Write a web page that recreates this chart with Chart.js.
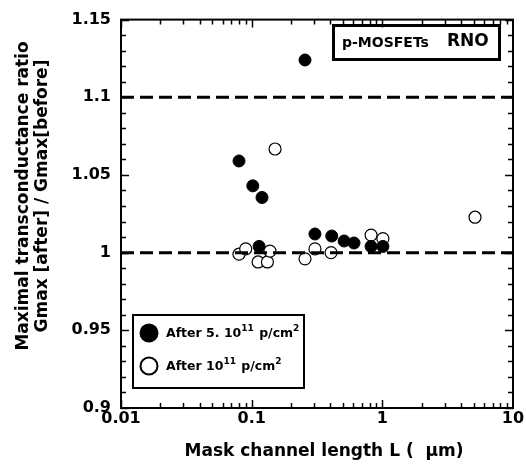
<!DOCTYPE html>
<html><head><meta charset="utf-8">
<script src="https://cdn.jsdelivr.net/npm/chart.js@4/dist/chart.umd.min.js"></script>
<style>html,body{margin:0;padding:0;background:#fff;}canvas{display:block;}</style>
</head><body>
<canvas id="c" width="526" height="468"></canvas>
<script>
// ---- data ----
const filledL = [0.08, 0.102, 0.12, 0.114, 0.256, 0.305, 0.41, 0.51, 0.607, 0.82, 1.01];
const filledR = [1.059, 1.043, 1.0355, 1.004, 1.124, 1.012, 1.0107, 1.0075, 1.0062, 1.004, 1.004];
const openL = [0.08, 0.09, 0.112, 0.132, 0.138, 0.151, 0.256, 0.305, 0.405, 0.82, 1.01, 5.12];
const openR = [0.999, 1.0024, 0.994, 0.994, 1.001, 1.0667, 0.996, 1.0024, 1.0, 1.0113, 1.009, 1.0228];
const refLevels = [1.0, 1.1];
const xTickVals = [0.01, 0.1, 1, 10];
const xTickLabels = ['0.01', '0.1', '1', '10'];
const yTickVals = [0.9, 0.95, 1.0, 1.05, 1.1, 1.15];
const yTickLabels = ['0.9', '0.95', '1', '1.05', '1.1', '1.15'];
const xRange = [0.01, 10];
const yRange = [0.9, 1.15];
const xTitle = 'Mask channel length L (  \u03BCm)';
const yTitle = ['Maximal transconductance ratio', 'Gmax [after] / Gmax[before]'];
const legendItems = [
  {filled: true, parts: [['After 5. 10', 0], ['11', 1], [' p/cm', 0], ['2', 1]]},
  {filled: false, parts: [['After 10', 0], ['11', 1], [' p/cm', 0], ['2', 1]]}
];
const boxText = [['p-MOSFETs', 14], ['RNO', 17]];

const FF = '"DejaVu Sans", "Liberation Sans", Arial, sans-serif';

const toPts = (xs, ys) => xs.map((v, i) => ({x: v, y: ys[i]}));

const datasets = [
  {label: 'open', data: toPts(openL, openR), backgroundColor: '#fff', borderColor: '#000',
   borderWidth: 1.2, pointRadius: 6, order: 3},
  {label: 'filled', data: toPts(filledL, filledR), backgroundColor: '#000', borderColor: '#000',
   borderWidth: 1, pointRadius: 6, order: 2}
];
refLevels.forEach(l => datasets.push({
  label: 'ref' + l, data: [{x: xRange[0], y: l}, {x: xRange[1], y: l}],
  showLine: true, borderColor: '#000', borderWidth: 3, borderDash: [13, 6],
  pointRadius: 0, order: 1
}));

function drawParts(ctx, parts, x, y, size) {
  ctx.textBaseline = 'middle';
  ctx.textAlign = 'left';
  for (const [t, sup] of parts) {
    ctx.font = 'bold ' + (sup ? Math.round(size * 0.7) : size) + 'px ' + FF;
    ctx.fillText(t, x, sup ? y - 5 : y);
    x += ctx.measureText(t).width + (sup ? 1 : 0);
  }
}

const deco = {
  id: 'deco',
  afterDraw(chart) {
    const {ctx, chartArea: a, scales: {x, y}} = chart;
    ctx.save();
    ctx.strokeStyle = '#000'; ctx.fillStyle = '#000';
    // minor / major ticks (inward)
    ctx.lineWidth = 1.5;
    ctx.beginPath();
    for (let i = 90; i <= 115; i++) {
      const py = Math.round(y.getPixelForValue(i / 100)) + 0.5;
      const len = (i % 5 === 0) ? 8 : 5;
      ctx.moveTo(a.left, py); ctx.lineTo(a.left + len, py);
      ctx.moveTo(a.right, py); ctx.lineTo(a.right - len, py);
    }
    for (let n = -2; n <= 0; n++) {
      for (let k = 1; k <= 9; k++) {
        const px = Math.round(x.getPixelForValue(k * Math.pow(10, n))) + 0.5;
        const len = (k === 1) ? 8 : 5;
        ctx.moveTo(px, a.bottom); ctx.lineTo(px, a.bottom - len);
        ctx.moveTo(px, a.top); ctx.lineTo(px, a.top + len);
      }
    }
    ctx.stroke();
    // frame
    ctx.lineWidth = 2;
    ctx.strokeRect(a.left, a.top, a.right - a.left, a.bottom - a.top);

    // annotation box top right
    ctx.lineWidth = 3;
    ctx.strokeRect(333.5, 25.5, 166, 34);
    ctx.textBaseline = 'middle'; ctx.textAlign = 'left';
    ctx.font = 'bold ' + boxText[0][1] + 'px ' + FF;
    ctx.fillText(boxText[0][0], 342, 43);
    ctx.font = 'bold ' + boxText[1][1] + 'px ' + FF;
    ctx.fillText(boxText[1][0], 447, 42);

    // legend
    ctx.lineWidth = 2;
    ctx.strokeRect(133, 315, 171, 73);
    legendItems.forEach((it, i) => {
      const cy = 333 + i * 33;
      ctx.beginPath();
      ctx.arc(149, cy, it.filled ? 9.5 : 8.5, 0, Math.PI * 2);
      if (it.filled) { ctx.fill(); } else { ctx.fillStyle = '#fff'; ctx.fill(); ctx.fillStyle = '#000'; ctx.lineWidth = 2; ctx.stroke(); }
      drawParts(ctx, it.parts, 166, cy + 1, 12.5);
    });

    // axis titles
    ctx.textAlign = 'center'; ctx.textBaseline = 'middle';
    ctx.font = 'bold 17px ' + FF;
    ctx.fillText(xTitle, 324, 452);
    ctx.font = 'bold 17px ' + FF;
    yTitle.forEach((t, i) => {
      ctx.save();
      ctx.translate(24 + i * 19, 196);
      ctx.rotate(-Math.PI / 2);
      ctx.fillText(t, 0, 0);
      ctx.restore();
    });
    ctx.restore();
  }
};

new Chart(document.getElementById('c'), {
  type: 'scatter',
  data: {datasets},
  options: {
    responsive: false, animation: false, events: [],
    layout: {padding: {left: 0, top: 15, right: 13, bottom: 0}},
    plugins: {legend: {display: false}, tooltip: {enabled: false}},
    scales: {
      x: {
        type: 'logarithmic', min: xRange[0], max: xRange[1],
        grid: {display: false, drawTicks: false}, border: {display: false},
        afterBuildTicks: s => { s.ticks = xTickVals.map(v => ({value: v})); },
        afterFit: s => { s.height = 60; },
        ticks: {autoSkip: false, maxRotation: 0, padding: 1, color: '#000',
          font: {family: FF, size: 16, weight: 'bold'},
          callback: (v, i) => xTickLabels[i]}
      },
      y: {
        type: 'linear', min: yRange[0], max: yRange[1],
        grid: {display: false, drawTicks: false}, border: {display: false},
        afterBuildTicks: s => { s.ticks = yTickVals.map(v => ({value: v})); },
        afterFit: s => { s.width = 121; },
        ticks: {autoSkip: false, padding: 10, color: '#000',
          font: {family: FF, size: 16, weight: 'bold'},
          callback: (v, i) => yTickLabels[i]}
      }
    }
  },
  plugins: [deco]
});
</script>
</body></html>
